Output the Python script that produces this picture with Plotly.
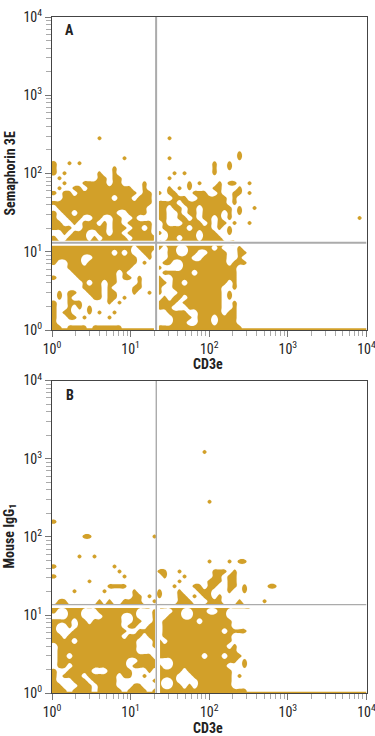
import plotly.graph_objects as go

GOLD = "#D2A029"
CELL_DECADES = 5 / 78.6
N_COLS = 63
LEVEL = 0.6

# occupied density cells, top row first, last row on the axis
a_cells = [
    "", "9 23", "", "", "37", "14 23 37", "0 3 5 32 35", "0 12 32 35", "0 2 9 12 24 26 32",
    "1 9 10 12-13 23", "2 6-10 12-13 18 27 29 33 35-36 39",
    "1 4-5 7-15 18 23 25 27 32-33 37", "0 2-3 5-16 18-19 21 23-24 28-30 33 36-37 39",
    "2-11 13-15 17-19 24-26 29-34 36", "0-19 21-24 26-34 36",
    "1-18 21-22 24-25 27-28 30-35 37 40", "0 2-3 5-12 15-18 21-22 25 27-28 30-33 35 37",
    "0 3-5 8-9 12-13 16 21-22 25-26 28 30-31 33 35 61",
    "0-1 4 6-8 10 12-13 15-19 22 26-29 31 33-34 36 39",
    "0-3 6-10 12-14 16-17 19 22-26 28-31 33 35", "2 4-6 9-10 12-13 15-19 21 23-28 30-32 35",
    "0 3-6 8 10-14 16-20 23-24 26-28 30-33", "0-19 21-36",
    "0-15 17-20 21 23-24 27-31 33 37", "0-11 13 15 18-19 23-24 27-28 31-34 37-38",
    "0-5 8-16 19 23-27 30-34 37", "0 3-5 7-16 18 22-23 26-34 36-38", "3-15 21 26-36",
    "4-12 14 22-27 29-36", "0 5-12 14-15 17 21 24-36", "6 8-9 11-12 17 21-22 24-25 27-34 36",
    "6-9 11 16-17 21 24-33 36", "1 3-4 7-9 11-12 16 19 21 25-33 35", "1 3 8-9 11-12 14 22 24-25 27-33 35",
    "0 3-5 11 13 21-24 26-33 36", "0 3 5 7 21-23 27-33 36", "0 2-3 7 9 12 23-26 29-33 35-36",
    "0 3-4 6 11 24-27 29-31 33-36", "0 24-26 29-31 33-36", "0-1 3-6 8-13 21-37",
]
b_cells = [
    "30", "", "", "", "", "", "", "", "", "", "31", "", "", "", "0", "", "", "6-7 20", "", "", "",
    "5 8", "31 35 37-38", "0 12", "13 21-22 25 32-34 36", "0 14 22 26 32-33 35-36", "7 25 31-33 35-36",
    "11-14 24 28-29 31-32 35-36 38 43-44", "4 10 16 21 25 29-31 35 38", "16-17 19 21 25-26 28 30-31 33",
    "1-2 9 11 14-17 20 25-27 31-33 37 42", "0-19 21-39",
    "0 3-5 9-16 20 24-25 28-30 33-34", "3-5 10-13 16 20 23-25 28-34",
    "0-3 5-6 8-13 16-17 20 22-28 30-35", "0 3 5-13 15-16 19-20 22-35",
    "0 4-14 17-20 22-33 35-38", "0-1 3-13 15-17 19-20 22-35", "0-3 5-16 20-21 23-35",
    "1-16 20-34 36", "1-16 21-36", "1-2 4-19 21-29 31-33 35-37", "1-14 17-20 24-36 38",
    "1-2 4-14 16-21 24-34 38", "0 3-7 11-15 19 21-25 27-35", "0 2-5 7-12 14-15 18 21-24 28-35 37",
    "0 4-6 8-12 20-21 24 29-35", "0-1 5-7 9-12 16-17 21 24-25 27 29-35", "0-2 4-7 9-13 15-18 20-38",
]
gate_a = (21.1, 13.0)
gate_b = (21.2, 13.6)
gap_a = (21.3, 12.8)
gap_b = (22.0, 13.0)
floor_x = [1, 10000]
floor_y = [1.02, 1.02]
tick_vals = [1, 10, 100, 1000, 10000]
tick_text = ["10<sup>0</sup>", "10<sup>1</sup>", "10<sup>2</sup>", "10<sup>3</sup>", "10<sup>4</sup>"]
minor_multiples = [2, 3, 4, 5, 6, 7, 8, 9]
minor_vals = [m * d for d in tick_vals[:-1] for m in minor_multiples]


def grid(rows):
    total = int(round(4 / CELL_DECADES))
    z = [[0] * N_COLS for _ in range(total)]
    for r, spec in enumerate(reversed(rows)):
        for part in spec.split():
            lo, _, hi = part.partition("-")
            for c in range(int(lo), int(hi or lo) + 1):
                z[r][c] = 1
    z = [row[:1] + row for row in z]
    z = z[:1] + z
    xs = [1.0] + [10 ** ((i + 0.5) * CELL_DECADES) for i in range(N_COLS)]
    ys = [1.0] + [10 ** ((j + 0.5) * CELL_DECADES) for j in range(total)]
    return xs, ys, z


fig = go.Figure()
panels = [
    ("x", "y", a_cells, gate_a, gap_a, 1e4, 2.0, 5),
    ("x2", "y2", b_cells, gate_b, gap_b, gate_b[1], 1.4, 3.5),
]
for xa, ya, cells, gate, gap, gap_top, gate_w, gap_w in panels:
    xs, ys, z = grid(cells)
    fig.add_trace(go.Contour(
        x=xs, y=ys, z=z, xaxis=xa, yaxis=ya, autocontour=False, zmin=0, zmax=1,
        contours=dict(start=LEVEL, end=LEVEL + 1, size=1, coloring="fill", showlines=True),
        colorscale=[[0, "rgba(255,255,255,0)"], [1, GOLD]],
        line=dict(color=GOLD, width=0.1, smoothing=1.3),
        showscale=False, hoverinfo="skip",
    ))
    fig.add_trace(go.Scatter(x=floor_x, y=floor_y, xaxis=xa, yaxis=ya, mode="lines",
                             line=dict(color=GOLD, width=2), hoverinfo="skip"))
    for lx, ly, c, w in [
        ([gap[0], gap[0]], [1, gap_top], "white", 5),
        ([1, 1e4], [gap[1], gap[1]], "white", gap_w),
        ([gate[0], gate[0]], [1, 1e4], "#ABABAB", gate_w),
        ([1, 1e4], [gate[1], gate[1]], "#ABABAB", gate_w),
    ]:
        fig.add_trace(go.Scatter(x=lx, y=ly, xaxis=xa, yaxis=ya, mode="lines",
                                 line=dict(color=c, width=w), hoverinfo="skip"))

FONT = "Liberation Sans Narrow, Roboto Condensed, Open Sans Condensed, Noto Sans Condensed, DejaVu Sans Condensed, Liberation Sans, sans-serif"
tickstyle = dict(
    type="log", range=[0, 4], tickvals=tick_vals, ticktext=tick_text, ticks="outside", ticklen=6,
    tickcolor="#777777", tickwidth=1, showgrid=False, zeroline=False, showline=True, mirror=True,
    linecolor="#444444", linewidth=1.2, tickfont=dict(family=FONT, size=14, color="#222222"),
    ticklabeloverflow="allow", automargin=False,
    minor=dict(ticks="outside", ticklen=5, tickcolor="#AAAAAA", tickwidth=1, showgrid=False, tickvals=minor_vals),
)
X0, X1 = 52 / 375, 366.5 / 375


def label(text, x_px, y_px, angle=0, size=14):
    return dict(text=f"<b>{text}</b>", xref="paper", yref="paper", x=x_px / 375, y=1 - y_px / 736,
                xanchor="center", yanchor="middle", showarrow=False, textangle=angle,
                font=dict(family=FONT, size=size, color="#222222"))


fig.update_layout(
    width=375, height=736, margin=dict(l=0, r=0, t=0, b=0), showlegend=False,
    paper_bgcolor="white", plot_bgcolor="white",
    xaxis=dict(domain=[X0, X1], anchor="y", **tickstyle),
    yaxis=dict(domain=[1 - 330 / 736, 1 - 17 / 736], anchor="x", **tickstyle),
    xaxis2=dict(domain=[X0, X1], anchor="y2", **tickstyle),
    yaxis2=dict(domain=[1 - 693.3 / 736, 1 - 380.5 / 736], anchor="x2", **tickstyle),
    annotations=[
        label("A", 69.5, 30), label("B", 69.5, 395),
        label("CD3e", 208, 364), label("CD3e", 208, 728),
        label("Semaphorin 3E", 9, 173.5, -90), label("Mouse IgG<sub>1</sub>", 9, 536.5, -90),
    ],
)
fig.write_html("out.html", config=dict(displayModeBar=False),
               post_script="document.body.style.margin='0';")
